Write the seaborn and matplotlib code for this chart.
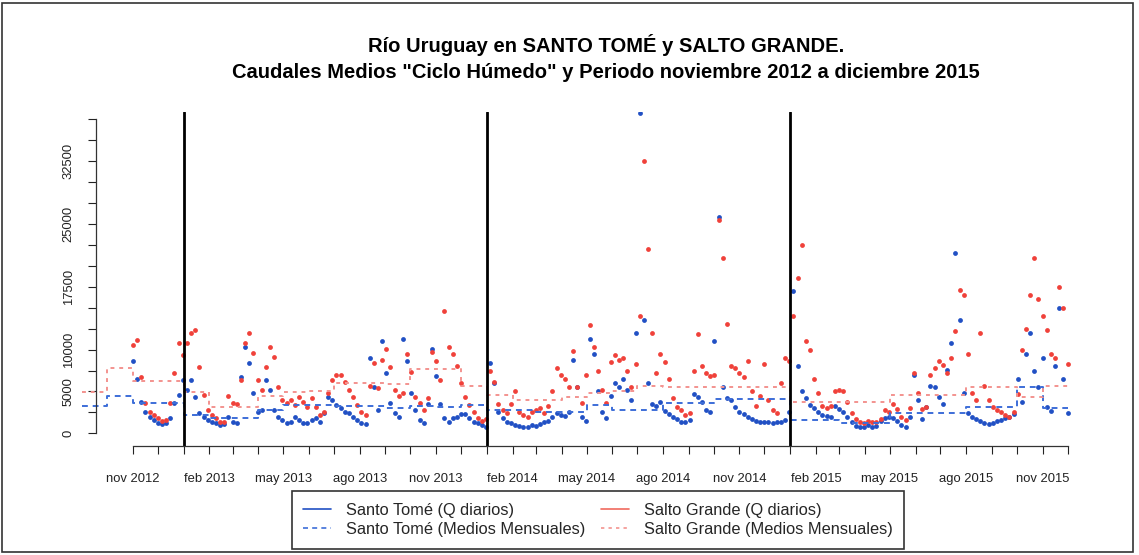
import numpy as np
import pandas as pd
import matplotlib
matplotlib.use("Agg")
import matplotlib.pyplot as plt
import matplotlib.dates as mdates
from matplotlib.lines import Line2D
import seaborn as sns

sns.set_theme(style="ticks")
plt.rcParams['font.family'] = ['Liberation Sans', 'DejaVu Sans']

# daily flows (m3/s), one value every 5 days, 2012-11-01 .. 2015-12-01
santo_tome_q = [
    8600, 6500, 3800, 2580, 1990, 1590, 1270, 1110, 1190, 1790, 3580, 4570, 6360, 5170, 6360, 4370,
    2380, 1990, 1590, 1390, 1190, 990, 1110, 1990, 1390, 1270, 6760, 10340, 8350, 4770, 2580, 2780,
    6360, 5170, 2780, 1990, 1590, 1270, 1390, 1990, 1590, 1270, 1190, 1590, 1790, 1390, 2380, 4370,
    3970, 3380, 2980, 2580, 2380, 1990, 1590, 1270, 1110,
    9000, 5500, 2800, 11000, 7200, 3600, 2400, 2000, 11300, 8600, 4800, 2800, 1600, 1200, 3500, 10100,
    6900, 3500, 1800, 1400, 1800, 2000, 2300, 2300, 1800, 1400, 1200, 1000, 800, 8400, 6000, 2600,
    1800, 1400, 1200, 1000, 900, 800, 800, 1000, 900, 1100, 1300, 1500, 2000, 2400, 2200, 2100,
    2500, 8800, 5500, 2000, 1500, 11300, 9500, 5000, 2600, 1800,
    4500, 6000, 5500, 6500, 5200, 4000, 12000, 38200, 13500, 6000, 3500, 3300, 3800, 2700, 2300, 2000,
    1700, 1400, 1300, 1600, 4700, 4300, 3800, 2800, 2600, 11000, 25800, 5500, 4200, 4000, 3200, 2600,
    2300, 2000, 1700, 1500, 1400, 1300, 1400, 1200, 1300, 1400, 1600, 2500,
    17000, 8000, 5000, 4200, 3400, 3000, 2500, 2200, 2100, 2000, 3300, 2900, 2600, 2000, 1400, 900,
    800, 700, 1000, 800, 900, 1500, 1800, 2000, 1800, 1500, 1000, 800, 2000, 7000, 4000, 1700,
    3200, 5600, 5500, 4400, 3500, 7600, 10800, 21500, 13500, 4800, 2400, 1900, 1700, 1500, 1200, 1100,
    1200, 1500, 1600, 1800, 2000, 2300, 6500, 3800, 9500, 12000, 7500, 5500, 9000, 3200, 2700, 8000,
    15000, 6500, 2400,
]
salto_grande_q = [
    10500, 11200, 6760, 3580, 2580, 2180, 1790, 1510, 1590, 3580, 7160, 10800, 9300, 10740, 11940, 12330,
    7960, 4570, 2780, 2180, 1790, 1390, 1390, 4500, 3580, 3500, 6360, 10740, 11940, 9550, 6360, 5170,
    7960, 10340, 9150, 5570, 3970, 3580, 3970, 3380, 4370, 3780, 3180, 4170, 3180, 2180, 2580, 4770,
    6360, 6960, 6960, 6160, 5170, 4370, 3380, 2580, 2180,
    5600, 8400, 5400, 8800, 10100, 7900, 5200, 4500, 4800, 9500, 7300, 4400, 3600, 2800, 4200, 9700,
    8700, 6400, 14600, 10300, 9500, 8000, 6000, 4400, 3400, 2600, 1800, 1500, 1700, 7500, 6100, 3500,
    2800, 2400, 3500, 5000, 2600, 2200, 2000, 2600, 2800, 3000, 2400, 3300, 5000, 7800, 7000, 6500,
    5500, 9800, 5500, 3600, 7000, 12900, 10300, 7500, 5200, 3600,
    8500, 9300, 8800, 9000, 7500, 5500, 8300, 14000, 32500, 22000, 12000, 7200, 9500, 8500, 6500, 4200,
    3200, 2800, 2200, 2400, 7500, 11900, 8000, 7200, 6800, 7000, 25500, 21000, 13000, 8000, 7800, 7200,
    6700, 8700, 5000, 3300, 4500, 8300, 4000, 2800, 2400, 6000, 9000, 8700,
    14000, 18500, 22500, 11000, 10000, 6500, 4800, 3300, 3000, 3300, 5000, 5200, 5000, 3800, 2400, 1700,
    1400, 1200, 1500, 1400, 1300, 1700, 2800, 2600, 3500, 2900, 2000, 1600, 3000, 7200, 4800, 2900,
    3200, 7000, 7800, 8600, 8200, 7200, 9000, 12200, 17100, 16500, 9500, 4800, 4000, 12000, 5600, 4000,
    3200, 2800, 2500, 2200, 2000, 2600, 4700, 10000, 12500, 16500, 21000, 16000, 14000, 12400, 9500, 9000,
    17500, 15000, 8300,
]

# monthly means, sep 2012 .. dec 2015 (drawn as steps from the first of each month)
santo_tome_mean = [
    3260, 4450, 3580, 3580, 2190, 1870, 1870, 2800, 3400, 3400, 3300, 3300,
    3000, 3300, 3170, 3400, 2780, 2780, 2580, 2580, 3380, 2780, 2780, 3580,
    3580, 4100, 4100, 4100, 1590, 1590, 1190, 1190, 2390, 2390, 2390, 3180,
    3180, 5570, 2980, 2980,
]
salto_grande_mean = [
    4970, 7830, 6250, 6250, 4900, 3200, 3200, 4500, 4900, 5000, 6000, 6000,
    5900, 7650, 7650, 5600, 4570, 3980, 3980, 4400, 4800, 5000, 5600, 5570,
    5570, 5570, 5570, 5500, 3780, 3780, 3780, 3780, 4570, 4570, 4570, 5570,
    5570, 4400, 5700, 5700,
]

year_marks = ["2013-01-01", "2014-01-01", "2015-01-01"]
ytick_values = list(range(0, 37501, 2500))
ytick_shown = [0, 5000, 10000, 17500, 25000, 32500]
month_abbr = {11: "nov", 2: "feb", 5: "may", 8: "ago"}

BLUE = "#2150c4"
RED = "#f0413a"
BLUE_DASH = "#3d6ed8"
RED_DASH = "#f3938f"

days = pd.date_range("2012-11-01", periods=len(santo_tome_q), freq="5D")
months = pd.date_range("2012-09-01", periods=len(santo_tome_mean), freq="MS")
daily = pd.DataFrame({"fecha": days, "st": santo_tome_q, "sg": salto_grande_q})
monthly = pd.DataFrame({"fecha": months, "st": santo_tome_mean, "sg": salto_grande_mean})

fig = plt.figure(figsize=(11.39, 5.55), dpi=100)
ax = fig.add_axes([0.0839, 0.1969, 0.8862, 0.6013])

sns.lineplot(data=monthly, x="fecha", y="st", ax=ax, color=BLUE_DASH, lw=1.4,
             linestyle=(0, (3, 2.5)), drawstyle="steps-post", estimator=None, clip_on=False)
sns.lineplot(data=monthly, x="fecha", y="sg", ax=ax, color=RED_DASH, lw=1.4,
             linestyle=(0, (2, 2.5)), drawstyle="steps-post", estimator=None, clip_on=False)
sns.scatterplot(data=daily, x="fecha", y="st", ax=ax, color=BLUE, s=12, linewidth=0)
sns.scatterplot(data=daily, x="fecha", y="sg", ax=ax, color=RED, s=12, linewidth=0)

for d in year_marks:
    ax.axvline(pd.Timestamp(d), color="black", lw=2)

start, end = pd.Timestamp("2012-11-01"), pd.Timestamp("2015-12-01")
ax.set_xlim(start - pd.Timedelta(days=45), end + pd.Timedelta(days=45))
ax.set_ylim(-1476, 38376)

xt = pd.date_range(start, end, freq="MS")
ax.set_xticks(xt)
ax.set_xticklabels([f"{month_abbr[t.month]} {t.year}" if t.month in month_abbr else "" for t in xt])
ax.set_yticks(ytick_values)
ax.set_yticklabels([str(v) if v in ytick_shown else "" for v in ytick_values])
ax.set_xlabel("")
ax.set_ylabel("")

ax.tick_params(axis="x", length=6, width=0.8, pad=14, labelsize=9.4, colors="#222222")
ax.tick_params(axis="y", length=6, width=0.8, pad=9, labelsize=9.4, labelrotation=90, colors="#222222")
for lab in ax.get_yticklabels():
    lab.set_va("center")

for s in ["top", "right"]:
    ax.spines[s].set_visible(False)
ax.spines["bottom"].set_bounds(mdates.date2num(start), mdates.date2num(end))
ax.spines["left"].set_bounds(0, 37500)
for s in ["bottom", "left"]:
    ax.spines[s].set_linewidth(0.9)
    ax.spines[s].set_color("#333333")

fig.text(0.532, 1 - 45 / 555, "Río Uruguay en SANTO TOMÉ y SALTO GRANDE.",
         ha="center", va="center", fontsize=14.5, fontweight="bold", color="black")
fig.text(0.532, 1 - 72 / 555, 'Caudales Medios "Ciclo Húmedo" y Periodo noviembre 2012 a diciembre 2015',
         ha="center", va="center", fontsize=14.5, fontweight="bold", color="black")

handles = [
    Line2D([], [], color=BLUE, lw=1.2),
    Line2D([], [], color=BLUE_DASH, lw=1.2, linestyle=(0, (3, 2.5))),
    Line2D([], [], color="#f06a5e", lw=1.2),
    Line2D([], [], color=RED_DASH, lw=1.2, linestyle=(0, (2, 2.5))),
]
labels = ["Santo Tomé (Q diarios)", "Santo Tomé (Medios Mensuales)",
          "Salto Grande (Q diarios)", "Salto Grande (Medios Mensuales)"]
leg = fig.legend(handles, labels, ncol=2, loc="center", bbox_to_anchor=(598 / 1139, 1 - 520 / 555),
                 frameon=True, fancybox=False, edgecolor="black", fontsize=11.8,
                 handlelength=1.7, handletextpad=0.9, columnspacing=1.0, borderpad=0.7,
                 labelspacing=0.25, borderaxespad=0)
leg.get_frame().set_linewidth(1.2)

fig.add_artist(plt.Rectangle((0.002, 0.005), 0.993, 0.989, transform=fig.transFigure,
                             fill=False, lw=1.2, ec="#333333"))

fig.savefig("out.png", dpi=100)
